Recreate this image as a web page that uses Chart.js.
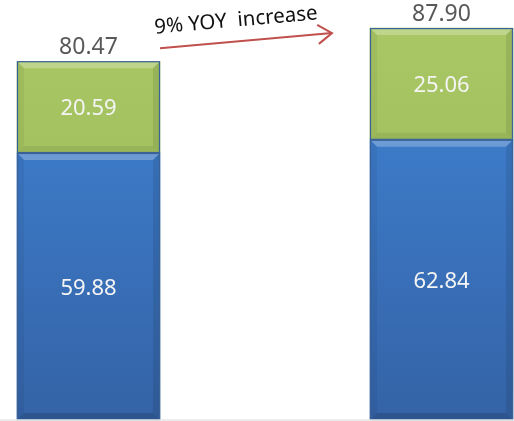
<!DOCTYPE html>
<html>
<head>
<meta charset="utf-8">
<script src="https://cdn.jsdelivr.net/npm/chart.js@4"></script>
<style>
  html, body { margin: 0; padding: 0; background: #fff; }
  #wrap { width: 514px; height: 421px; position: relative; }
</style>
</head>
<body>
<div id="wrap"><canvas id="myChart"></canvas></div>
<script>
// values
const periods = ['Year 1', 'Year 2'];
const baseValues = [59.88, 62.84];
const addedValues = [20.59, 25.06];
const totalLabels = ['80.47', '87.90'];
const yoyText = '9% YOY  increase';

function makeGrad(ctx, top, bottom) {
    const area = ctx.chart.chartArea;
    if (!area) return top;
    const g = ctx.chart.ctx.createLinearGradient(0, area.top, 0, area.bottom);
    g.addColorStop(0, top);
    g.addColorStop(1, bottom);
    return g;
}

// bevel look on each bar piece
const bevel = {
    id: 'bevel',
    afterDatasetsDraw(chart) {
        const c = chart.ctx;
        chart.data.datasets.forEach((ds, di) => {
            chart.getDatasetMeta(di).data.forEach(bar => {
                const l = bar.x - bar.width / 2, r = bar.x + bar.width / 2;
                const t = Math.min(bar.y, bar.base), b = Math.max(bar.y, bar.base);
                const d = 7;
                c.save();
                // top light strip
                c.fillStyle = 'rgba(255,255,255,0.25)';
                c.beginPath(); c.moveTo(l, t); c.lineTo(r, t); c.lineTo(r - d, t + d); c.lineTo(l + d, t + d); c.closePath(); c.fill();
                // bottom dark strip
                c.fillStyle = di === 0 ? 'rgba(0,0,0,0.14)' : 'rgba(0,0,0,0.07)';
                c.beginPath(); c.moveTo(l, b); c.lineTo(r, b); c.lineTo(r - d, b - d); c.lineTo(l + d, b - d); c.closePath(); c.fill();
                // sides
                c.fillStyle = 'rgba(0,0,0,0.05)';
                c.beginPath(); c.moveTo(l, t); c.lineTo(l + d, t + d); c.lineTo(l + d, b - d); c.lineTo(l, b); c.closePath(); c.fill();
                c.fillStyle = 'rgba(0,0,0,0.09)';
                c.beginPath(); c.moveTo(r, t); c.lineTo(r - d, t + d); c.lineTo(r - d, b - d); c.lineTo(r, b); c.closePath(); c.fill();
                c.strokeStyle = '#3b6296';
                c.lineWidth = 1.2;
                c.strokeRect(l + 0.5, t + 0.5, r - l - 1, b - t - 1);
                c.restore();
            });
        });
    }
};

// value labels, totals, arrow note, baseline
const labelsPlugin = {
    id: 'labelsPlugin',
    afterDraw(chart) {
        const c = chart.ctx;
        const y = chart.scales.y;
        c.save();
        // baseline
        c.strokeStyle = '#e6e6e6';
        c.lineWidth = 1.5;
        c.beginPath(); c.moveTo(0, y.getPixelForValue(0)); c.lineTo(chart.width, y.getPixelForValue(0)); c.stroke();

        c.textAlign = 'center';
        c.textBaseline = 'middle';
        c.font = '22px "Noto Sans"';
        c.fillStyle = '#f4f4f4';
        chart.data.datasets.forEach((ds, di) => {
            chart.getDatasetMeta(di).data.forEach((bar, i) => {
                c.fillText(ds.data[i].toFixed(2), bar.x, (bar.y + bar.base) / 2 + 2);
            });
        });
        const tops = chart.getDatasetMeta(1).data;
        c.fillStyle = '#595959';
        c.font = '23px "Noto Sans"';
        c.textBaseline = 'alphabetic';
        tops.forEach((bar, i) => c.fillText(totalLabels[i], bar.x, bar.y - 7));

        // YOY arrow between the bars
        const b1 = tops[0], b2 = tops[1];
        const x1 = b1.x + b1.width / 2, y1 = b1.y - 13;
        const x2 = b2.x - b2.width / 2 - 38, y2 = b2.y + 5;
        const ang = Math.atan2(y2 - y1, x2 - x1);
        c.strokeStyle = '#c0504d';
        c.lineWidth = 2;
        c.beginPath(); c.moveTo(x1, y1); c.lineTo(x2, y2); c.stroke();
        c.beginPath();
        c.moveTo(x2 + 17 * Math.cos(ang + Math.PI - 0.6), y2 + 17 * Math.sin(ang + Math.PI - 0.6));
        c.lineTo(x2, y2);
        c.lineTo(x2 + 17 * Math.cos(ang + Math.PI + 0.6), y2 + 17 * Math.sin(ang + Math.PI + 0.6));
        c.stroke();
        c.translate((x1 + x2) / 2 - 10, (y1 + y2) / 2 - 20);
        c.rotate(ang);
        c.fillStyle = '#111';
        c.font = '20.5px "Noto Sans"';
        c.textBaseline = 'middle';
        c.fillText(yoyText, 0, 0);
        c.restore();
    }
};

new Chart(document.getElementById('myChart'), {
    type: 'bar',
    data: {
        labels: periods,
        datasets: [
            { label: 'Base', data: baseValues, clip: false, borderWidth: 0,
              backgroundColor: ctx => makeGrad(ctx, '#4186d9', '#3463a6') },
            { label: 'Increase', data: addedValues, clip: false, borderWidth: 0,
              backgroundColor: ctx => makeGrad(ctx, '#aac966', '#98b653') }
        ]
    },
    options: {
        responsive: true,
        maintainAspectRatio: false,
        animation: false,
        layout: { padding: { left: 88.5, right: 72.5, top: 0, bottom: 1 } },
        datasets: { bar: { barThickness: 143 } },
        scales: {
            x: { stacked: true, offset: false, display: false },
            y: { stacked: true, display: false, min: 0, max: 94.2 }
        },
        plugins: { legend: { display: false }, tooltip: { enabled: false } }
    },
    plugins: [bevel, labelsPlugin]
});
</script>
</body>
</html>
